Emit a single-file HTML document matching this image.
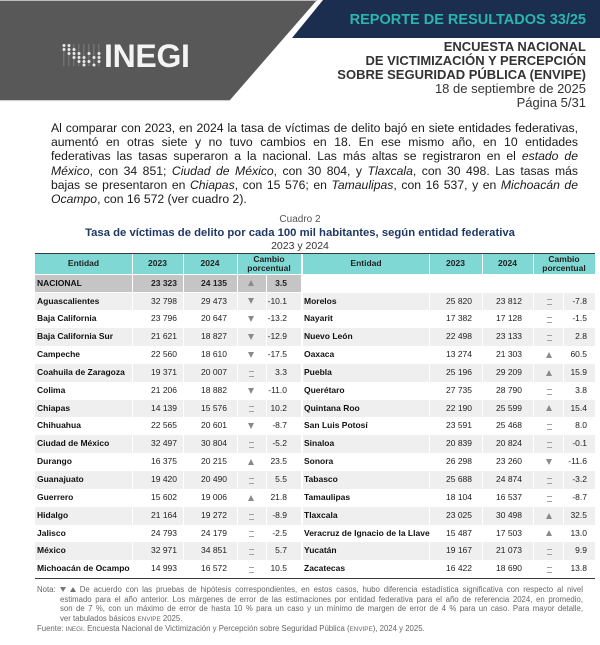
<!DOCTYPE html>
<html><head><meta charset="utf-8">
<style>
*{margin:0;padding:0;box-sizing:border-box}
html,body{width:600px;height:645px;background:#fff;overflow:hidden}
body{position:relative;font-family:"Liberation Sans",Arial,sans-serif;color:#222}
.abs{position:absolute}
.rh{position:absolute;right:14px;top:40px;text-align:right;font-size:13px;line-height:14px;color:#333;white-space:nowrap}
.p{position:absolute;left:51px;width:527px;font-size:12.2px;line-height:14.2px;height:14.2px;color:#1a1a1a;text-align:justify;text-align-last:justify;white-space:normal}
.bg{position:absolute;left:35px;width:560px;height:17.85px;background:#efefef}
.v{position:absolute;width:1.5px;background:#fff}
.hd{position:absolute;top:254px;height:19.5px;display:flex;align-items:center;justify-content:center;font-weight:bold;font-size:8.5px;text-align:center;line-height:8.8px;color:#222}
.r{position:absolute;left:0;width:600px;height:17.85px;line-height:17.85px;font-size:8.5px;color:#222}
.r span{position:absolute;top:0;white-space:nowrap}
.e1{left:37px;font-weight:bold;color:#111}
.a{right:423px}.b{right:373px}.d{right:313px}
.e2{left:304px;font-weight:bold;color:#111}
.f{right:128px}.g{right:78px}.i{right:13px}
.m{position:absolute;width:7px;height:6px;top:5.9px}
.m.L{left:248px}.m.R{left:545.5px}
.m::before{content:"";position:absolute;left:0;top:0;width:0;height:0}
.up::before{border-left:3.5px solid transparent;border-right:3.5px solid transparent;border-bottom:6px solid #8a8a8a}
.dn::before{border-left:3.5px solid transparent;border-right:3.5px solid transparent;border-top:6px solid #8a8a8a}
.eq::before{left:1px;top:1px;width:5px;height:4px;border-top:1.5px solid #a0a0a0;border-bottom:1.5px solid #a0a0a0}
.ft{position:absolute;left:60px;width:523px;font-size:7.8px;line-height:9.6px;height:9.6px;color:#666;text-align:justify;text-align-last:justify}
.tri{display:inline-block;width:0;height:0;border-left:3px solid transparent;border-right:3px solid transparent;vertical-align:0px}
.sc{font-size:6.3px}
</style></head><body>

<svg class="abs" style="left:0;top:0" width="600" height="105" viewBox="0 0 600 105">
<polygon points="0,0 317,0 230,100 0,100" fill="#585858"/>
<line x1="0" y1="0.5" x2="317" y2="0.5" stroke="#bdbdbd" stroke-width="1"/>
<line x1="0" y1="100.6" x2="230" y2="100.6" stroke="#c8c8c8" stroke-width="1"/>
<polygon points="323,0 600,0 600,38 292,38" fill="#1b2e50"/>
<g fill="#e8e8e8">
<rect x="63.6" y="44" width="0.6" height="22" fill="#9a9a9a"/>
<rect x="68.6" y="44" width="0.6" height="22" fill="#9a9a9a"/>
<rect x="73.6" y="44" width="0.6" height="22" fill="#9a9a9a"/>
<rect x="78.6" y="44" width="0.6" height="22" fill="#9a9a9a"/>
<rect x="83.6" y="44" width="0.6" height="22" fill="#9a9a9a"/>
<rect x="88.6" y="44" width="0.6" height="22" fill="#9a9a9a"/>
<rect x="93.6" y="44" width="0.6" height="22" fill="#9a9a9a"/>
<rect x="98.6" y="44" width="0.6" height="22" fill="#9a9a9a"/>
<circle cx="64" cy="45.5" r="1.5"/><circle cx="64" cy="49.5" r="1.5"/>
<circle cx="69" cy="45.5" r="1.5"/><circle cx="69" cy="49.5" r="1.5"/><circle cx="69" cy="53.5" r="1.5"/>
<circle cx="74" cy="49.5" r="1.5"/><circle cx="74" cy="53.5" r="1.5"/><circle cx="74" cy="57.5" r="1.5"/>
<circle cx="79" cy="53.5" r="1.5"/><circle cx="79" cy="57.5" r="1.5"/><circle cx="79" cy="61.5" r="1.5"/>
<circle cx="84" cy="57.5" r="1.5"/><circle cx="84" cy="61.5" r="1.5"/><circle cx="84" cy="65" r="1.5"/>
<circle cx="89" cy="53.5" r="1.5"/><circle cx="89" cy="61.5" r="1.5"/>
<circle cx="94" cy="57.5" r="1.5"/><circle cx="94" cy="65" r="1.5"/>
<circle cx="99" cy="53.5" r="1.5"/><circle cx="99" cy="57.5" r="1.5"/><circle cx="99" cy="61.5" r="1.5"/>
</g>
</svg>
<div class="abs" style="left:104px;top:40px;font-size:32px;line-height:32px;font-weight:bold;color:#f4f4f4;letter-spacing:-0.3px">INEGI</div>
<div class="abs" style="right:14px;top:10px;font-size:14.5px;line-height:20px;font-weight:bold;color:#2bb5ad;white-space:nowrap">REPORTE DE RESULTADOS 33/25</div>
<div class="rh"><b>ENCUESTA NACIONAL</b><br><b>DE VICTIMIZACIÓN Y PERCEPCIÓN</b><br><b>SOBRE SEGURIDAD PÚBLICA (ENVIPE)</b><br>18 de septiembre de 2025<br>Página 5/31</div>

<div class="p" style="top:121px">Al comparar con 2023, en 2024 la tasa de víctimas de delito bajó en siete entidades federativas,</div>
<div class="p" style="top:135.2px">aumentó en otras siete y no tuvo cambios en 18. En ese mismo año, en 10 entidades</div>
<div class="p" style="top:149.4px">federativas las tasas superaron a la nacional. Las más altas se registraron en el <i>estado de</i></div>
<div class="p" style="top:163.6px"><i>México</i>, con 34 851; <i>Ciudad de México</i>, con 30 804, y <i>Tlaxcala</i>, con 30 498. Las tasas más</div>
<div class="p" style="top:177.8px">bajas se presentaron en <i>Chiapas</i>, con 15 576; en <i>Tamaulipas</i>, con 16 537, y en <i>Michoacán de</i></div>
<div class="p" style="top:192px;text-align:left;text-align-last:left"><i>Ocampo</i>, con 16 572 (ver cuadro 2).</div>

<div class="abs" style="left:0;width:600px;top:213px;text-align:center;font-size:10px;line-height:14px;color:#555">Cuadro 2</div>
<div class="abs" style="left:0;width:600px;top:226px;text-align:center;font-size:11.3px;line-height:14px;font-weight:bold;color:#1f3864;white-space:nowrap">Tasa de víctimas de delito por cada 100 mil habitantes, según entidad federativa</div>
<div class="abs" style="left:0;width:600px;top:239.5px;text-align:center;font-size:10.5px;line-height:13px;color:#333">2023 y 2024</div>

<!-- table backgrounds -->
<div class="abs" style="left:35px;top:252.5px;width:560px;height:1.6px;background:#3a3a3a"></div>
<div class="abs" style="left:35px;top:254px;width:560px;height:19.5px;background:#7fd8d4"></div>
<div class="abs" style="left:35px;top:274.5px;width:266px;height:17.5px;background:#c5c5c5"></div>
<div class="bg" style="top:292.5px"></div>
<div class="bg" style="top:328.2px"></div>
<div class="bg" style="top:363.9px"></div>
<div class="bg" style="top:399.6px"></div>
<div class="bg" style="top:435.3px"></div>
<div class="bg" style="top:471px"></div>
<div class="bg" style="top:506.7px"></div>
<div class="bg" style="top:542.4px"></div>
<div class="v" style="left:131.5px;top:254px;height:324px"></div>
<div class="v" style="left:182.5px;top:254px;height:324px"></div>
<div class="v" style="left:236.5px;top:254px;height:324px"></div>
<div class="v" style="left:301px;width:2px;top:254px;height:324px"></div>
<div class="v" style="left:428.5px;top:254px;height:324px"></div>
<div class="v" style="left:481.5px;top:254px;height:324px"></div>
<div class="v" style="left:532.5px;top:254px;height:324px"></div>
<div class="v" style="left:265.5px;top:273.5px;height:305px"></div>
<div class="v" style="left:562.5px;top:273.5px;height:305px"></div>
<div class="abs" style="left:35px;top:577.8px;width:560px;height:1.6px;background:#3a3a3a"></div>

<!-- header text -->
<div class="hd" style="left:35px;width:97px">Entidad</div>
<div class="hd" style="left:132px;width:51px">2023</div>
<div class="hd" style="left:183px;width:54px">2024</div>
<div class="hd" style="left:237px;width:64px">Cambio<br>porcentual</div>
<div class="hd" style="left:303px;width:126px">Entidad</div>
<div class="hd" style="left:429px;width:53px">2023</div>
<div class="hd" style="left:482px;width:51px">2024</div>
<div class="hd" style="left:533px;width:62px">Cambio<br>porcentual</div>

<!-- rows -->
<div class="r" style="top:274px;height:18.5px;line-height:18.5px"><span class="e1">NACIONAL</span><span class="a" style="font-weight:bold">23 323</span><span class="b" style="font-weight:bold">24 135</span><i class="m L up" style="top:6.2px"></i><span class="d" style="font-weight:bold">3.5</span></div>

<div class="r" style="top:292.5px"><span class="e1">Aguascalientes</span><span class="a">32 798</span><span class="b">29 473</span><i class="m L dn"></i><span class="d">-10.1</span><span class="e2">Morelos</span><span class="f">25 820</span><span class="g">23 812</span><i class="m R eq"></i><span class="i">-7.8</span></div>
<div class="r" style="top:310.35px"><span class="e1">Baja California</span><span class="a">23 796</span><span class="b">20 647</span><i class="m L dn"></i><span class="d">-13.2</span><span class="e2">Nayarit</span><span class="f">17 382</span><span class="g">17 128</span><i class="m R eq"></i><span class="i">-1.5</span></div>
<div class="r" style="top:328.2px"><span class="e1">Baja California Sur</span><span class="a">21 621</span><span class="b">18 827</span><i class="m L dn"></i><span class="d">-12.9</span><span class="e2">Nuevo León</span><span class="f">22 498</span><span class="g">23 133</span><i class="m R eq"></i><span class="i">2.8</span></div>
<div class="r" style="top:346.05px"><span class="e1">Campeche</span><span class="a">22 560</span><span class="b">18 610</span><i class="m L dn"></i><span class="d">-17.5</span><span class="e2">Oaxaca</span><span class="f">13 274</span><span class="g">21 303</span><i class="m R up"></i><span class="i">60.5</span></div>
<div class="r" style="top:363.9px"><span class="e1">Coahuila de Zaragoza</span><span class="a">19 371</span><span class="b">20 007</span><i class="m L eq"></i><span class="d">3.3</span><span class="e2">Puebla</span><span class="f">25 196</span><span class="g">29 209</span><i class="m R up"></i><span class="i">15.9</span></div>
<div class="r" style="top:381.75px"><span class="e1">Colima</span><span class="a">21 206</span><span class="b">18 882</span><i class="m L dn"></i><span class="d">-11.0</span><span class="e2">Querétaro</span><span class="f">27 735</span><span class="g">28 790</span><i class="m R eq"></i><span class="i">3.8</span></div>
<div class="r" style="top:399.6px"><span class="e1">Chiapas</span><span class="a">14 139</span><span class="b">15 576</span><i class="m L eq"></i><span class="d">10.2</span><span class="e2">Quintana Roo</span><span class="f">22 190</span><span class="g">25 599</span><i class="m R up"></i><span class="i">15.4</span></div>
<div class="r" style="top:417.45px"><span class="e1">Chihuahua</span><span class="a">22 565</span><span class="b">20 601</span><i class="m L dn"></i><span class="d">-8.7</span><span class="e2">San Luis Potosí</span><span class="f">23 591</span><span class="g">25 468</span><i class="m R eq"></i><span class="i">8.0</span></div>
<div class="r" style="top:435.3px"><span class="e1">Ciudad de México</span><span class="a">32 497</span><span class="b">30 804</span><i class="m L eq"></i><span class="d">-5.2</span><span class="e2">Sinaloa</span><span class="f">20 839</span><span class="g">20 824</span><i class="m R eq"></i><span class="i">-0.1</span></div>
<div class="r" style="top:453.15px"><span class="e1">Durango</span><span class="a">16 375</span><span class="b">20 215</span><i class="m L up"></i><span class="d">23.5</span><span class="e2">Sonora</span><span class="f">26 298</span><span class="g">23 260</span><i class="m R dn"></i><span class="i">-11.6</span></div>
<div class="r" style="top:471px"><span class="e1">Guanajuato</span><span class="a">19 420</span><span class="b">20 490</span><i class="m L eq"></i><span class="d">5.5</span><span class="e2">Tabasco</span><span class="f">25 688</span><span class="g">24 874</span><i class="m R eq"></i><span class="i">-3.2</span></div>
<div class="r" style="top:488.85px"><span class="e1">Guerrero</span><span class="a">15 602</span><span class="b">19 006</span><i class="m L up"></i><span class="d">21.8</span><span class="e2">Tamaulipas</span><span class="f">18 104</span><span class="g">16 537</span><i class="m R eq"></i><span class="i">-8.7</span></div>
<div class="r" style="top:506.7px"><span class="e1">Hidalgo</span><span class="a">21 164</span><span class="b">19 272</span><i class="m L eq"></i><span class="d">-8.9</span><span class="e2">Tlaxcala</span><span class="f">23 025</span><span class="g">30 498</span><i class="m R up"></i><span class="i">32.5</span></div>
<div class="r" style="top:524.55px"><span class="e1">Jalisco</span><span class="a">24 793</span><span class="b">24 179</span><i class="m L eq"></i><span class="d">-2.5</span><span class="e2">Veracruz de Ignacio de la Llave</span><span class="f">15 487</span><span class="g">17 503</span><i class="m R up"></i><span class="i">13.0</span></div>
<div class="r" style="top:542.4px"><span class="e1">México</span><span class="a">32 971</span><span class="b">34 851</span><i class="m L eq"></i><span class="d">5.7</span><span class="e2">Yucatán</span><span class="f">19 167</span><span class="g">21 073</span><i class="m R eq"></i><span class="i">9.9</span></div>
<div class="r" style="top:560.25px"><span class="e1">Michoacán de Ocampo</span><span class="a">14 993</span><span class="b">16 572</span><i class="m L eq"></i><span class="d">10.5</span><span class="e2">Zacatecas</span><span class="f">16 422</span><span class="g">18 690</span><i class="m R eq"></i><span class="i">13.8</span></div>

<!-- footnotes -->
<div class="abs" style="left:37px;top:585.2px;font-size:7.8px;line-height:9.6px;color:#666">Nota:</div>
<div class="ft" style="top:585.2px"><span class="tri" style="border-top:5px solid #777"></span> <span class="tri" style="border-bottom:5px solid #777"></span> De acuerdo con las pruebas de hipótesis correspondientes, en estos casos, hubo diferencia estadística significativa con respecto al nivel</div>
<div class="ft" style="top:594.8px">estimado para el año anterior. Los márgenes de error de las estimaciones por entidad federativa para el año de referencia 2024, en promedio,</div>
<div class="ft" style="top:604.4px">son de 7 %, con un máximo de error de hasta 10 % para un caso y un mínimo de margen de error de 4 % para un caso. Para mayor detalle,</div>
<div class="ft" style="top:614px;text-align:left;text-align-last:left">ver tabulados básicos <span class="sc">ENVIPE</span> 2025.</div>
<div class="abs" style="left:37px;top:623.6px;font-size:7.8px;line-height:9.6px;color:#666;white-space:nowrap">Fuente: <span class="sc">INEGI</span>. Encuesta Nacional de Victimización y Percepción sobre Seguridad Pública (<span class="sc">ENVIPE</span>), 2024 y 2025.</div>

</body></html>
